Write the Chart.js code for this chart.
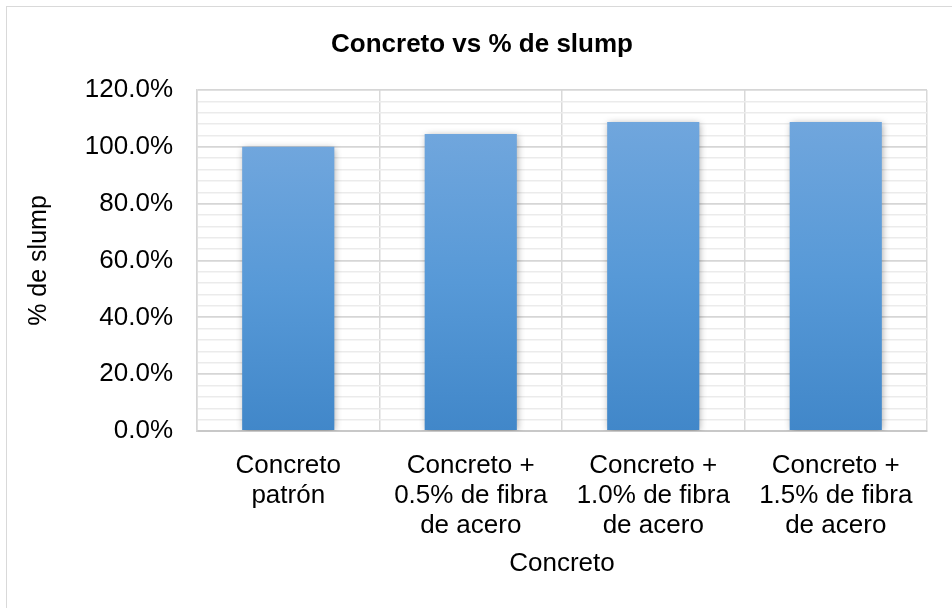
<!DOCTYPE html>
<html>
<head>
<meta charset="utf-8">
<script src="https://cdn.jsdelivr.net/npm/chart.js@4"></script>
<style>
  html, body { margin: 0; padding: 0; background: #fff; overflow: hidden; }
  #marco { position: absolute; left: 6px; top: 6px; width: 980px; height: 640px; border: 1.5px solid #d9d9d9; }
  #grafico { position: absolute; left: 0; top: 0; }
</style>
</head>
<body>
<div id="marco"></div>
<canvas id="grafico" width="952" height="608"></canvas>
<script>
// Datos del ensayo de slump
var categorias = [
    ['Concreto', 'patrón'],
    ['Concreto +', '0.5% de fibra', 'de acero'],
    ['Concreto +', '1.0% de fibra', 'de acero'],
    ['Concreto +', '1.5% de fibra', 'de acero']
];
var slump = [100.0, 104.5, 108.7, 108.7];
var ejeY = { min: 0, max: 120, paso: 4, principal: 20 };

var fuente = '"Liberation Sans", Arial, sans-serif';

// Degradado por barra, de arriba hacia abajo
function colorBarra(context) {
    var chart = context.chart;
    if (!chart.chartArea) return '#5597d4';
    var y = chart.scales.y;
    var arriba = y.getPixelForValue(slump[context.dataIndex]);
    var abajo = y.getPixelForValue(0);
    var g = chart.ctx.createLinearGradient(0, arriba, 0, abajo);
    g.addColorStop(0, '#70a6dd');
    g.addColorStop(0.5, '#5799d7');
    g.addColorStop(1, '#4187c9');
    return g;
}

// Sombra suave alrededor de las barras
var sombra = {
    id: 'sombra',
    beforeDatasetsDraw: function(chart) {
        var ctx = chart.ctx;
        ctx.save();
        ctx.shadowColor = 'rgba(0,0,0,0.35)';
        ctx.shadowBlur = 7;
        ctx.shadowOffsetX = 1;
        ctx.shadowOffsetY = 1;
    },
    afterDatasetsDraw: function(chart) {
        chart.ctx.restore();
    }
};

var ctx = document.getElementById('grafico').getContext('2d');
new Chart(ctx, {
    type: 'bar',
    data: {
        labels: categorias,
        datasets: [{
            label: '% de slump',
            data: slump,
            backgroundColor: colorBarra,
            borderWidth: 0,
            barPercentage: 0.505,
            categoryPercentage: 1
        }]
    },
    options: {
        responsive: false,
        devicePixelRatio: 1,
        animation: false,
        layout: { padding: { left: 37, right: 25, top: 0, bottom: 0 } },
        plugins: {
            legend: { display: false },
            tooltip: { enabled: false },
            title: {
                display: true,
                text: 'Concreto vs % de slump',
                color: '#000',
                font: { family: fuente, size: 26, weight: 'bold', lineHeight: 1.2 },
                padding: { top: 29, bottom: 29.8 }
            }
        },
        scales: {
            x: {
                afterFit: function(scale) { scale.height = 177; },
                grid: { color: '#d9d9d9', lineWidth: 1.5, drawTicks: false },
                border: { color: '#c8c8c8', width: 2 },
                ticks: {
                    color: '#000',
                    padding: 20,
                    maxRotation: 0,
                    autoSkip: false,
                    font: { family: fuente, size: 26, lineHeight: 1.15 }
                },
                title: {
                    display: true,
                    text: 'Concreto',
                    color: '#000',
                    font: { family: fuente, size: 26, lineHeight: 1.15 },
                    padding: { top: 0, bottom: 29 }
                }
            },
            y: {
                min: ejeY.min,
                max: ejeY.max,
                afterFit: function(scale) { scale.width = 160; },
                grid: {
                    drawTicks: false,
                    color: function(c) { return c.tick.value % ejeY.principal === 0 ? '#d6d6d6' : '#ebebeb'; },
                    lineWidth: function(c) { return c.tick.value % ejeY.principal === 0 ? 1.8 : 1.5; }
                },
                border: { color: '#d6d6d6', width: 1.5 },
                ticks: {
                    stepSize: ejeY.paso,
                    autoSkip: false,
                    color: '#000',
                    padding: 24,
                    font: { family: fuente, size: 26 },
                    callback: function(v) { return v % ejeY.principal === 0 ? v.toFixed(1) + '%' : ''; }
                },
                title: {
                    display: true,
                    text: '% de slump',
                    color: '#000',
                    font: { family: fuente, size: 25, lineHeight: 1.2 },
                    padding: { top: -13, bottom: 0 }
                }
            }
        }
    },
    plugins: [sombra]
});
</script>
</body>
</html>
